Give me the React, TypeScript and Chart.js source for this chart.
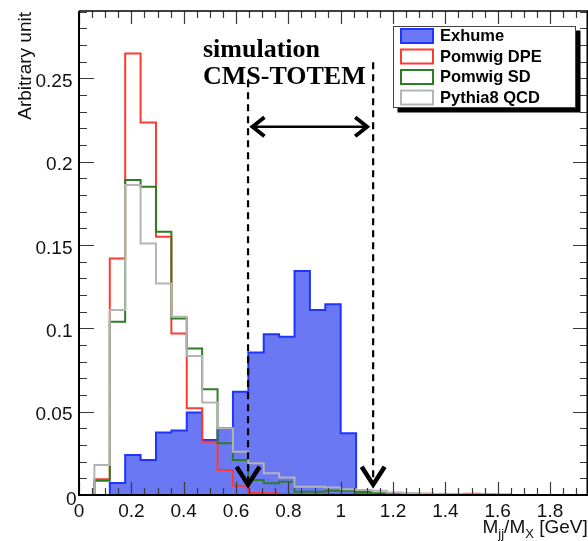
import React, { useEffect, useRef } from "react";
import { Chart, registerables } from "chart.js";

Chart.register(...registerables);

// ---- data ----
const BIN_WIDTH = 2 / 34;
const X_MIN = 0;
const X_MAX = 1.945;
const Y_MIN = 0;
const Y_MAX = 0.2905;

const X_MAJOR_TICKS = [0, 0.2, 0.4, 0.6, 0.8, 1.0, 1.2, 1.4, 1.6, 1.8];
const X_TICK_LABELS = ["0", "0.2", "0.4", "0.6", "0.8", "1", "1.2", "1.4", "1.6", "1.8"];
const X_MINOR_STEP = 0.05;
const Y_MAJOR_TICKS = [0, 0.05, 0.1, 0.15, 0.2, 0.25];
const Y_TICK_LABELS = ["0", "0.05", "0.1", "0.15", "0.2", "0.25"];
const Y_MINOR_STEP = 0.01;

const SERIES_NAMES = ["Exhume", "Pomwig DPE", "Pomwig SD", "Pythia8 QCD"];

// bin contents, bin i covers [i*BIN_WIDTH, (i+1)*BIN_WIDTH]
const exhume = [
  0, 0, 0.0072, 0.024, 0.021, 0.0375, 0.0387, 0.0495, 0.033, 0.04, 0.062, 0.0855,
  0.0965, 0.095, 0.1345, 0.111, 0.1145, 0.037, 0.0026, 0, 0, 0, 0, 0, 0, 0, 0, 0,
  0, 0, 0, 0, 0,
];
const pomwigDPE = [
  0, 0.0095, 0.142, 0.265, 0.2236, 0.155, 0.097, 0.052, 0.032, 0.015, 0.0056, 0.0012,
  0.001, 0.0005, 0.0005, 0.0004, 0.0004, 0.0004, 0.0003, 0.0003, 0.0002, 0.0002, 0.0008,
  0.0002, 0.0002, 0.0008, 0.0001, 0, 0, 0, 0, 0, 0,
];
const pomwigSD = [
  0, 0.0085, 0.104, 0.189, 0.185, 0.158, 0.106, 0.088, 0.0635, 0.031, 0.021, 0.009,
  0.007, 0.008, 0.002, 0.002, 0.0025, 0.0025, 0.0015, 0.001, 0.001, 0.0008, 0.0006,
  0.0006, 0.0005, 0.0005, 0.0003, 0.0002, 0, 0, 0, 0, 0,
];
const pythia8QCD = [
  0, 0.018, 0.111, 0.186, 0.151, 0.127, 0.107, 0.0835, 0.0555, 0.04, 0.026, 0.019,
  0.013, 0.0105, 0.005, 0.005, 0.0045, 0.0035, 0.003, 0.0025, 0.0015, 0.001, 0.0008,
  0.0008, 0.0006, 0.0005, 0.0004, 0.0003, 0, 0, 0, 0, 0,
];

// annotation anchors (data units)
const ANNOT_LEFT_X = 0.646;
const ANNOT_RIGHT_X = 1.124;
const ANNOT_LEFT_TOP = 0.249;
const ANNOT_RIGHT_TOP = 0.2598;
const ARROW_Y = 0.221;
const ARROW_X_FROM = 0.659;
const ARROW_X_TO = 1.105;
const TIP_Y = 0.005;

// ---- styles ----
const BLUE_LINE = "#1f35ff";
const BLUE_FILL = "#6b78f4";
const RED = "#ff3b30";
const GREEN = "#2e7d24";
const GREY = "#b4b4b4";
const COLORS = [BLUE_LINE, RED, GREEN, GREY];

function toSteps(values: number[]) {
  const pts = values.map((v, i) => ({ x: i * BIN_WIDTH, y: v }));
  pts.push({ x: values.length * BIN_WIDTH, y: values[values.length - 1] });
  return pts;
}

const overlay = {
  id: "rootOverlay",
  afterDraw(chart: any) {
    const { ctx, chartArea: a, scales } = chart;
    const xs = scales.x;
    const ys = scales.y;
    ctx.save();

    // ticks
    ctx.strokeStyle = "#3a3a3a";
    ctx.lineWidth = 1.2;
    ctx.beginPath();
    const nX = Math.round((X_MAX - X_MIN) / X_MINOR_STEP);
    for (let k = 0; k <= nX; k++) {
      const v = X_MIN + k * X_MINOR_STEP;
      if (v > X_MAX) break;
      const major = X_MAJOR_TICKS.some((t) => Math.abs(t - v) < 1e-6);
      const len = major ? 13 : 7;
      const px = Math.round(xs.getPixelForValue(v)) + 0.5;
      ctx.moveTo(px, a.bottom);
      ctx.lineTo(px, a.bottom - len);
      ctx.moveTo(px, a.top);
      ctx.lineTo(px, a.top + len);
    }
    const nY = Math.round((Y_MAX - Y_MIN) / Y_MINOR_STEP);
    for (let k = 0; k <= nY; k++) {
      const v = Y_MIN + k * Y_MINOR_STEP;
      if (v > Y_MAX) break;
      const major = Y_MAJOR_TICKS.some((t) => Math.abs(t - v) < 1e-6);
      const len = major ? 15 : 8;
      const py = Math.round(ys.getPixelForValue(v)) + 0.5;
      ctx.moveTo(a.left, py);
      ctx.lineTo(a.left + len, py);
      ctx.moveTo(a.right, py);
      ctx.lineTo(a.right - len, py);
    }
    ctx.stroke();

    // frame
    ctx.strokeStyle = "#000";
    ctx.lineWidth = 2;
    ctx.beginPath();
    ctx.moveTo(a.left, a.top);
    ctx.lineTo(a.left, a.bottom);
    ctx.lineTo(a.right, a.bottom);
    ctx.stroke();
    ctx.lineWidth = 1.5;
    ctx.beginPath();
    ctx.moveTo(a.left, a.top);
    ctx.lineTo(a.right - 0.75, a.top);
    ctx.lineTo(a.right - 0.75, a.bottom);
    ctx.stroke();

    // tick labels
    ctx.fillStyle = "#111";
    ctx.font = '19px "Liberation Sans", Arial, sans-serif';
    ctx.textAlign = "center";
    ctx.textBaseline = "alphabetic";
    X_MAJOR_TICKS.forEach((v, i) => {
      ctx.fillText(X_TICK_LABELS[i], xs.getPixelForValue(v), 516.5);
    });
    ctx.textAlign = "right";
    Y_MAJOR_TICKS.forEach((v, i) => {
      const py = ys.getPixelForValue(v);
      ctx.fillText(Y_TICK_LABELS[i], v === 0 ? 76.5 : 72.5, py + (v === 0 ? 9.7 : 8.7));
    });

    // y title
    ctx.save();
    ctx.translate(30.5, 12);
    ctx.rotate(-Math.PI / 2);
    ctx.textAlign = "right";
    ctx.font = '19px "Liberation Sans", Arial, sans-serif';
    ctx.fillText("Arbitrary unit", 0, 0);
    ctx.restore();

    // x title: M_jj/M_X [GeV]
    ctx.textAlign = "left";
    let tx = 482.5;
    const base = 533;
    const big = '19px "Liberation Sans", Arial, sans-serif';
    const small = '13px "Liberation Sans", Arial, sans-serif';
    const parts: [string, boolean][] = [
      ["M", false],
      ["jj", true],
      ["/M", false],
      ["X", true],
      [" [GeV]", false],
    ];
    parts.forEach(([s, sub]) => {
      ctx.font = sub ? small : big;
      ctx.fillText(s, tx, sub ? base + 5 : base);
      tx += ctx.measureText(s).width;
    });

    // annotation text
    ctx.fillStyle = "#000";
    ctx.font = 'bold 26px "Liberation Serif", "Times New Roman", serif';
    ctx.textAlign = "left";
    ctx.fillText("simulation", 203, 57);
    ctx.fillText("CMS-TOTEM", 203, 84);

    // dashed lines
    const xl = xs.getPixelForValue(ANNOT_LEFT_X);
    const xr = xs.getPixelForValue(ANNOT_RIGHT_X);
    const yTip = ys.getPixelForValue(TIP_Y);
    ctx.strokeStyle = "#000";
    ctx.lineWidth = 2.2;
    ctx.setLineDash([7, 5]);
    ctx.beginPath();
    ctx.moveTo(xl, ys.getPixelForValue(ANNOT_LEFT_TOP));
    ctx.lineTo(xl, yTip - 4);
    ctx.moveTo(xr, ys.getPixelForValue(ANNOT_RIGHT_TOP));
    ctx.lineTo(xr, yTip - 4);
    ctx.stroke();
    ctx.setLineDash([]);

    // horizontal double arrow
    const ay = ys.getPixelForValue(ARROW_Y);
    const ax0 = xs.getPixelForValue(ARROW_X_FROM);
    const ax1 = xs.getPixelForValue(ARROW_X_TO);
    ctx.lineWidth = 2.5;
    ctx.beginPath();
    ctx.moveTo(ax0 + 2, ay);
    ctx.lineTo(ax1 - 2, ay);
    ctx.stroke();
    ctx.lineWidth = 3.8;
    ctx.lineJoin = "miter";
    ctx.lineCap = "butt";
    ctx.beginPath();
    ctx.moveTo(ax0 + 13, ay - 9.5);
    ctx.lineTo(ax0 + 1, ay);
    ctx.lineTo(ax0 + 13, ay + 9.5);
    ctx.moveTo(ax1 - 13, ay - 9.5);
    ctx.lineTo(ax1 - 1, ay);
    ctx.lineTo(ax1 - 13, ay + 9.5);
    ctx.stroke();

    // down chevrons
    ctx.lineWidth = 4.5;
    ctx.beginPath();
    [xl, xr].forEach((cx) => {
      ctx.moveTo(cx - 11.5, yTip - 20);
      ctx.lineTo(cx, yTip - 2);
      ctx.lineTo(cx + 11.5, yTip - 20);
    });
    ctx.stroke();

    // legend
    const lx = 393.5, ly = 26.5, lw = 182, lh = 81;
    ctx.fillStyle = "#000";
    ctx.fillRect(lx + 4, ly + 4, lw + 1, lh + 1);
    ctx.fillStyle = "#fff";
    ctx.fillRect(lx, ly, lw, lh);
    ctx.strokeStyle = "#444";
    ctx.lineWidth = 1;
    ctx.strokeRect(lx, ly, lw, lh);
    const rows = [36, 56.5, 77, 97.5];
    ctx.font = 'bold 16.5px "Liberation Sans", Arial, sans-serif';
    ctx.textBaseline = "middle";
    SERIES_NAMES.forEach((name, i) => {
      const cy = rows[i];
      ctx.fillStyle = i === 0 ? BLUE_FILL : "#fff";
      ctx.fillRect(401, cy - 7, 32, 14);
      ctx.strokeStyle = COLORS[i];
      ctx.lineWidth = 2;
      ctx.strokeRect(401, cy - 7, 32, 14);
      ctx.fillStyle = "#000";
      ctx.fillText(name, 440, cy + 0.5);
    });

    ctx.restore();
  },
};

export default function App() {
  const ref = useRef<HTMLCanvasElement | null>(null);
  useEffect(() => {
    document.body.style.margin = "0";
    const canvas = ref.current;
    if (!canvas) return;
    const common = {
      pointRadius: 0,
      pointHoverRadius: 0,
      borderWidth: 2,
      stepped: true as const,
      tension: 0,
    };
    const chart = new Chart(canvas, {
      type: "line",
      data: {
        datasets: [
          {
            ...common,
            label: SERIES_NAMES[0],
            data: toSteps(exhume),
            borderColor: BLUE_LINE,
            backgroundColor: BLUE_FILL,
            fill: "origin",
            order: 4,
          },
          {
            ...common,
            label: SERIES_NAMES[1],
            data: toSteps(pomwigDPE),
            borderColor: RED,
            fill: false,
            order: 3,
          },
          {
            ...common,
            label: SERIES_NAMES[2],
            data: toSteps(pomwigSD),
            borderColor: GREEN,
            fill: false,
            order: 2,
          },
          {
            ...common,
            label: SERIES_NAMES[3],
            data: toSteps(pythia8QCD),
            borderColor: GREY,
            fill: false,
            order: 1,
          },
        ],
      },
      options: {
        responsive: false,
        animation: false,
        devicePixelRatio: 1,
        parsing: false as any,
        layout: { padding: { left: 79, top: 11, right: 0, bottom: 46 } },
        scales: {
          x: { type: "linear", min: X_MIN, max: X_MAX, display: false },
          y: { type: "linear", min: Y_MIN, max: Y_MAX, display: false },
        },
        plugins: {
          legend: { display: false },
          tooltip: { enabled: false },
        },
      },
      plugins: [overlay],
    });
    return () => chart.destroy();
  }, []);
  return (
    <div style={{ position: "absolute", left: 0, top: 0, width: 588, height: 541, background: "#fff" }}>
      <canvas ref={ref} width={588} height={541} style={{ display: "block" }} />
    </div>
  );
}
